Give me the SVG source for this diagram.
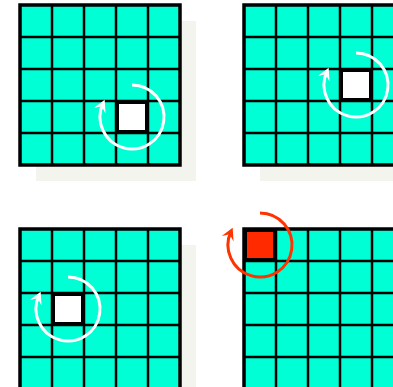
<svg xmlns="http://www.w3.org/2000/svg" xmlns:xlink="http://www.w3.org/1999/xlink" width="393" height="387" viewBox="0 0 393 387">
<style>
.shadow{fill:#f4f4ee}
.bg{fill:#00ffd5}
.ln{stroke:#000;stroke-width:2.5;fill:none}
.outer{stroke:#000;stroke-width:3.5;fill:none}
.hl{fill:#fff;stroke:#000;stroke-width:3}
.red{fill:#ff2a00;stroke:#000;stroke-width:3}
.arcw{fill:none;stroke:#fff;stroke-width:3}
.arcr{fill:none;stroke:#ff3300;stroke-width:3}
</style>
<defs>
<marker id="hw" markerUnits="userSpaceOnUse" orient="auto" refX="0" refY="0" markerWidth="20" markerHeight="20" viewBox="-10 -10 20 20" overflow="visible">
<path d="M 4 0 L -8 -6.5 L -3 0 L -8 6.5 Z" fill="#fff"/>
</marker>
<marker id="hr" markerUnits="userSpaceOnUse" orient="auto" refX="0" refY="0" markerWidth="20" markerHeight="20" viewBox="-10 -10 20 20" overflow="visible">
<path d="M 4 0 L -8 -6.5 L -3 0 L -8 6.5 Z" fill="#ff3300"/>
</marker>
<g id="grid">
<rect class="shadow" x="16" y="16" width="160" height="160"/>
<rect class="bg" x="0" y="0" width="160" height="160"/>
<path class="ln" d="M32 0V160M64 0V160M96 0V160M128 0V160M0 32H160M0 64H160M0 96H160M0 128H160"/>
<rect class="outer" x="0" y="0" width="160" height="160"/>
</g>
</defs>
<g id="grid-top-left">
<use xlink:href="#grid" x="20" y="5"/>
<rect class="hl" x="117.5" y="102.5" width="29" height="29"/>
</g>
<g id="grid-top-right">
<use xlink:href="#grid" x="244" y="5"/>
<rect class="hl" x="341.5" y="70.5" width="29" height="29"/>
</g>
<g id="grid-bottom-left">
<use xlink:href="#grid" x="20" y="229"/>
<rect class="hl" x="53.5" y="294.5" width="29" height="29"/>
</g>
<g id="grid-bottom-right">
<use xlink:href="#grid" x="244" y="229"/>
<rect class="red" x="245.5" y="230.5" width="29" height="29"/>
</g>
<g id="connectors">
<path class="arcw" d="M132 85 A32 32 0 1 1 103 103.5" marker-end="url(#hw)"/>
<path class="arcw" d="M356 53 A32 32 0 1 1 327 71.5" marker-end="url(#hw)"/>
<path class="arcw" d="M68 277 A32 32 0 1 1 39 295.5" marker-end="url(#hw)"/>
<path class="arcr" d="M260 213 A32 32 0 1 1 231 231.5" marker-end="url(#hr)"/>
</g>
</svg>
